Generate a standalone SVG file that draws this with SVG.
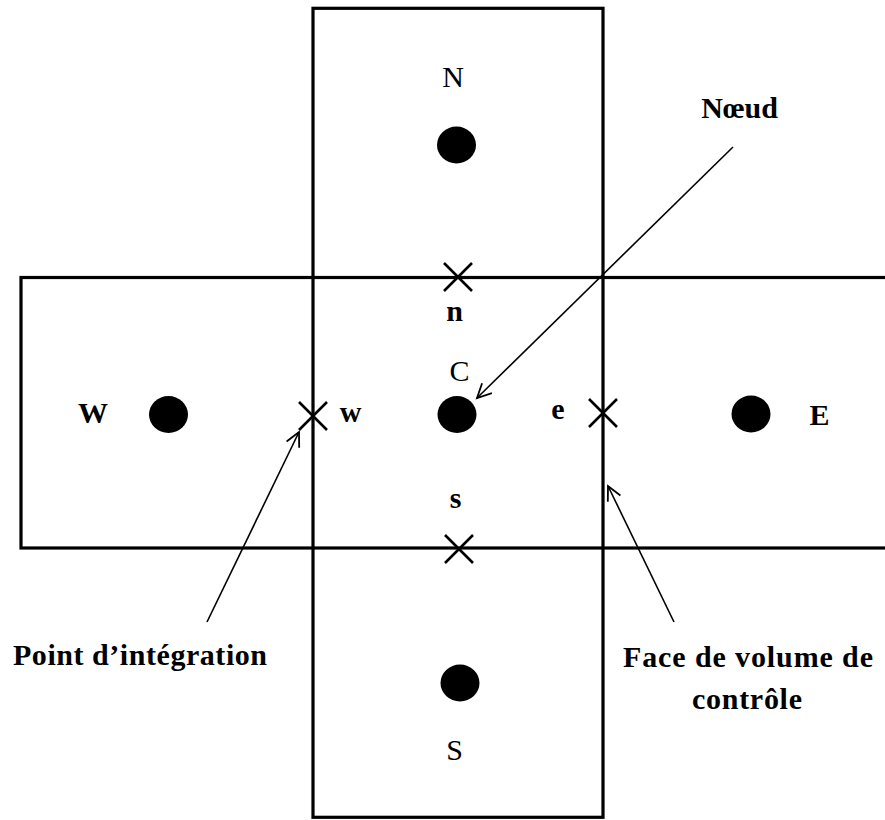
<svg xmlns="http://www.w3.org/2000/svg" width="885" height="820" viewBox="0 0 885 820">
<style>
.cell{fill:none;stroke:#000;stroke-width:3.2}
.dot{fill:#000}
.x{stroke:#000;stroke-width:2.6;fill:none}
.lbl{font-family:"Liberation Serif","Times New Roman",serif;font-size:30px;fill:#000;text-anchor:middle}
.b{font-weight:bold}
.conn{stroke:#000;stroke-width:1.6;fill:none}
</style>
<defs>
<marker id="arr" markerUnits="userSpaceOnUse" markerWidth="20" markerHeight="20" refX="16" refY="8" orient="auto">
<path d="M2,1 L16,8 L2,15" fill="none" stroke="#000" stroke-width="1.8"/>
</marker>
</defs>
<rect width="885" height="820" fill="#fff"/>
<g id="cells">
<rect class="cell" x="21" y="277.5" width="880" height="270.5"/>
<rect class="cell" x="313" y="8.3" width="290" height="809"/>
</g>
<g id="node-N"><ellipse class="dot" cx="456.5" cy="145" rx="19.5" ry="18.5"/><text class="lbl" x="453" y="87">N</text></g>
<g id="node-C"><ellipse class="dot" cx="457" cy="414.5" rx="19.5" ry="18.5"/><text class="lbl" x="459.5" y="381">C</text></g>
<g id="node-W"><ellipse class="dot" cx="168.5" cy="414.5" rx="19.5" ry="18.5"/><text class="lbl b" x="93" y="423">W</text></g>
<g id="node-E"><ellipse class="dot" cx="751" cy="414" rx="19.5" ry="18.5"/><text class="lbl b" x="819.5" y="425">E</text></g>
<g id="node-S"><ellipse class="dot" cx="460" cy="683" rx="19.5" ry="18.5"/><text class="lbl" x="454.5" y="760">S</text></g>
<g id="ip-n"><path class="x" d="M444,263 L472,291 M472,263 L444,291"/><text class="lbl b" x="454.5" y="321">n</text></g>
<g id="ip-s"><path class="x" d="M445,535 L473,563 M473,535 L445,563"/><text class="lbl b" x="455.5" y="508">s</text></g>
<g id="ip-w"><path class="x" d="M299,402 L327,430 M327,402 L299,430"/><text class="lbl b" x="350.5" y="422">w</text></g>
<g id="ip-e"><path class="x" d="M589,399 L617,427 M617,399 L589,427"/><text class="lbl b" x="558" y="419">e</text></g>
<g id="label-noeud"><text class="lbl b" x="739.5" y="118">Nœud</text></g>
<g id="label-point"><text class="lbl b" x="140" y="665" textLength="254" lengthAdjust="spacing">Point d’intégration</text></g>
<g id="label-face"><text class="lbl b" x="748" y="667" textLength="250" lengthAdjust="spacing">Face de volume de</text><text class="lbl b" x="747" y="709" textLength="110" lengthAdjust="spacing">contrôle</text></g>
<g id="connectors">
<line class="conn" x1="733" y1="147" x2="477" y2="398" marker-end="url(#arr)"/>
<line class="conn" x1="207" y1="622" x2="299" y2="432" marker-end="url(#arr)"/>
<line class="conn" x1="674" y1="622" x2="608" y2="486" marker-end="url(#arr)"/>
</g>
</svg>
